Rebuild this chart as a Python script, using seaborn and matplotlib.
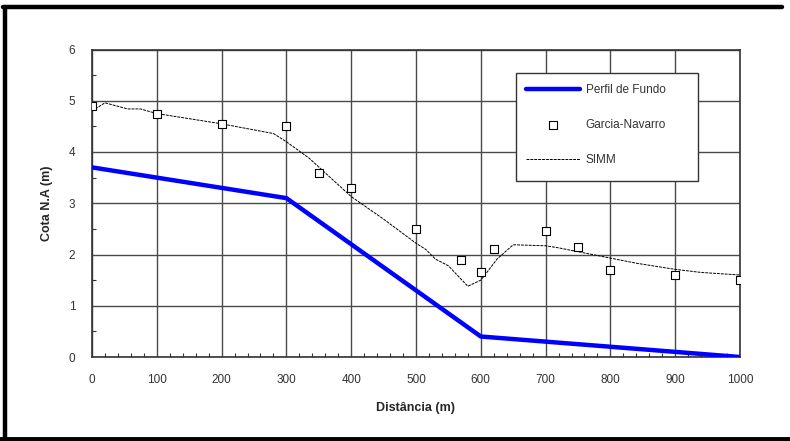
import numpy as np
import pandas as pd
import matplotlib
matplotlib.use("Agg")
import matplotlib.pyplot as plt
from matplotlib.lines import Line2D
from matplotlib.patches import Rectangle
from matplotlib.ticker import MultipleLocator
import seaborn as sns

# --- data ---
fundo_x = [0, 50, 100, 150, 200, 250, 300, 400, 500, 600, 700, 800, 900, 1000]
fundo_y = [3.70, 3.60, 3.50, 3.40, 3.30, 3.20, 3.10, 2.20, 1.30, 0.40, 0.30, 0.20, 0.10, 0.00]

garcia_x = [0, 100, 200, 300, 350, 400, 500, 570, 600, 620, 700, 750, 800, 900, 1000]
garcia_y = [4.90, 4.75, 4.55, 4.50, 3.60, 3.30, 2.50, 1.90, 1.65, 2.10, 2.45, 2.15, 1.70, 1.60, 1.50]

simm_x = [0, 20, 55, 75, 100, 200, 280, 300, 335, 400, 450, 500, 515, 530, 550,
          580, 600, 610, 625, 650, 700, 720, 800, 840, 900, 940, 1000]
simm_y = [4.80, 4.96, 4.84, 4.84, 4.75, 4.55, 4.36, 4.20, 3.88, 3.13, 2.69, 2.22, 2.10,
          1.91, 1.78, 1.38, 1.50, 1.66, 1.91, 2.19, 2.17, 2.13, 1.93, 1.83, 1.71, 1.65, 1.60]

x_ticks = [0, 100, 200, 300, 400, 500, 600, 700, 800, 900, 1000]
y_ticks = [0, 1, 2, 3, 4, 5, 6]

sns.set_style("white")
plt.rcParams['font.family'] = ['Liberation Sans', 'DejaVu Sans']

W, H = 790, 441
fig = plt.figure(figsize=(7.9, 4.41), dpi=100)
ax = fig.add_axes([92/W, 1-357/H, 648/W, 307.5/H])

df_f = pd.DataFrame({"x": fundo_x, "y": fundo_y})
df_g = pd.DataFrame({"x": garcia_x, "y": garcia_y})
df_s = pd.DataFrame({"x": simm_x, "y": simm_y})

sns.lineplot(data=df_f, x="x", y="y", ax=ax, color="#0000ff", lw=3.2,
             label="Perfil de Fundo", zorder=4, sort=False)
sns.scatterplot(data=df_g, x="x", y="y", ax=ax, marker="s", s=30,
                facecolor="white", edgecolor="black", linewidth=0.8,
                label="Garcia-Navarro", zorder=5)
sns.lineplot(data=df_s, x="x", y="y", ax=ax, color="black", lw=0.7,
             dashes=False, label="SIMM", zorder=3, sort=False)
ax.lines[-1].set_linestyle((0, (3, 1)))

ax.set_xlim(0, 1000)
ax.set_ylim(0, 6)
ax.set_xticks(x_ticks)
ax.set_yticks(y_ticks)
ax.xaxis.set_minor_locator(MultipleLocator(20))
ax.yaxis.set_minor_locator(MultipleLocator(0.5))
ax.tick_params(which="major", length=0, pad=12, labelsize=8.5, colors="#333333")
ax.tick_params(which="minor", direction="in", length=3, width=0.8, color="#333333",
               bottom=True, left=True, top=False, right=False)
ax.grid(True, which="major", color="#4a4a4a", lw=1.0)
for s in ax.spines.values():
    s.set_color("#333333")
    s.set_linewidth(1.2)
    s.set_visible(True)

ax.set_xlabel("Distância (m)", fontsize=9, fontweight="bold", labelpad=12)
ax.set_ylabel("Cota N.A (m)", fontsize=9, fontweight="bold", labelpad=11)

# legend frame box
box = Rectangle(((516-92)/648, (357-180.7)/307.5), (698-516)/648, (180.7-72.7)/307.5,
                transform=ax.transAxes, facecolor="white", edgecolor="#333333",
                lw=1.0, zorder=6, clip_on=False)
ax.add_patch(box)
leg = ax.legend(loc="center left", bbox_to_anchor=((526-92)/648, (357-125)/307.5),
                frameon=False, fontsize=8.5, labelspacing=1.95, handlelength=4.6,
                borderpad=0, handletextpad=0.45, borderaxespad=0,
                markerscale=1.0)
leg.set_zorder(7)
for t in leg.get_texts():
    t.set_color("#333333")

# outer border
fig.add_artist(Line2D([5/W, 5/W], [2/H, 1-7/H], transform=fig.transFigure, color="black", lw=3.2))
fig.add_artist(Line2D([3/W, 782/W], [1-7/H, 1-7/H], transform=fig.transFigure, color="black", lw=3.2))
fig.add_artist(Line2D([0, 1], [2.5/H, 2.5/H], transform=fig.transFigure, color="black", lw=3.5))

fig.savefig("out.png", dpi=100)
